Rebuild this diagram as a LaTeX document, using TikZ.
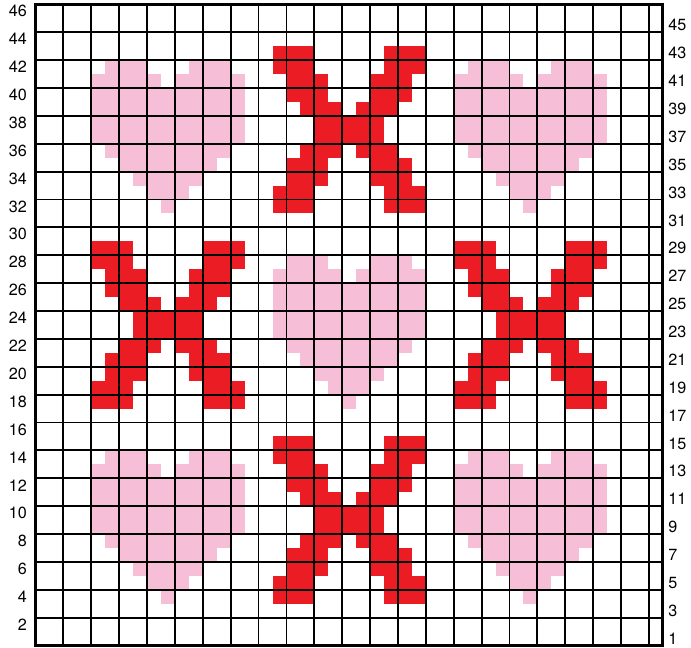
\documentclass[tikz,border=0pt]{standalone}
\usepackage{fontspec}
\setmainfont{TeX Gyre Heros}
\definecolor{heartpink}{RGB}{247,190,215}
\definecolor{crossred}{RGB}{236,28,36}
\begin{document}
\begin{tikzpicture}[x=0.5cm, y=0.5cm,
        heart/.style={fill=heartpink},
        cross/.style={fill=crossred},
        rowlabel/.style={inner sep=0pt, font=\fontsize{16.5}{16.5}\selectfont}]
        \useasboundingbox (-2.547,-0.108) rectangle (47.02,46.31);

        % Hearts (top row of each motif given)
        \foreach \hx/\hy in {4/42, 30/42, 17/28, 4/14, 30/14}
            \foreach \r/\a/\b in {0/2/4, 0/8/10, 1/1/5, 1/7/11, 2/1/11, 3/1/11, 4/1/11,
                                  5/1/11, 6/2/10, 7/3/9, 8/4/8, 9/5/7, 10/6/6}
                \fill[heart] (\hx+\a-1, \hy-\r-1) rectangle (\hx+\b, \hy-\r);

        % Crosses
        \foreach \hx/\hy in {17/43, 4/29, 30/29, 17/15}
            \foreach \r/\a/\b in {0/1/3, 0/9/11, 1/1/3, 1/9/11, 2/2/4, 2/8/10, 3/2/4, 3/8/10,
                                  4/3/5, 4/7/9, 5/4/8, 6/4/8, 7/3/5, 7/7/9, 8/2/4, 8/8/10,
                                  9/2/4, 9/8/10, 10/1/3, 10/9/11, 11/1/3, 11/9/11}
                \fill[cross] (\hx+\a-1, \hy-\r-1) rectangle (\hx+\b, \hy-\r);

        % Chart grid
        \draw[line width=1.9pt] (0,0) grid (45,46);
        \draw[line width=2.8pt] (0,0) rectangle (45,46);

        % Row numbers
        \foreach \n in {2,4,...,46}
            \node[rowlabel, anchor=east] (left\n) at (-0.61, \n-0.5) {\n};
        \foreach \n in {1,3,...,45}
            \node[rowlabel, anchor=west] (right\n) at (45.39, \n-0.5) {\n};
    \end{tikzpicture}
\end{document}
